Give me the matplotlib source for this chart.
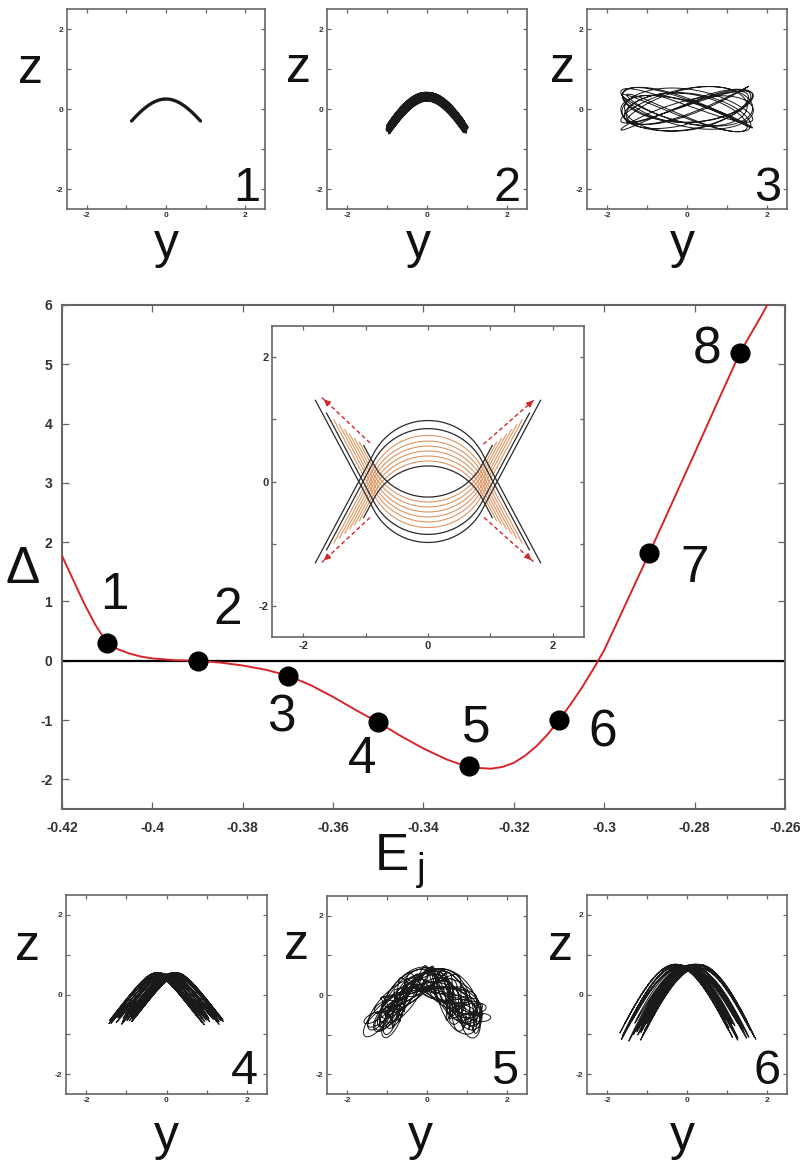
import numpy as np
import matplotlib
matplotlib.use("Agg")
import matplotlib.pyplot as plt

plt.rcParams['font.family'] = ['Liberation Sans', 'DejaVu Sans']
plt.rcParams['axes.unicode_minus'] = False

# ---------------- data ----------------
# Delta as a function of the Jacobi energy E_j
curve_E = [-0.4200, -0.4175, -0.4150, -0.4125, -0.4100, -0.4075, -0.4050,
           -0.4025, -0.4000, -0.3950, -0.3900, -0.3850, -0.3800, -0.3750,
           -0.3700, -0.3650, -0.3600, -0.3550, -0.3500, -0.3450, -0.3400,
           -0.3350, -0.3325, -0.3300, -0.3275, -0.3250, -0.3225, -0.3200,
           -0.3175, -0.3150, -0.3125, -0.3100, -0.3075, -0.3050, -0.3025,
           -0.3000, -0.2950, -0.2900, -0.2850, -0.2800, -0.2750, -0.2700,
           -0.2650, -0.2636]
curve_D = [1.77, 1.36, 0.95, 0.59, 0.30, 0.19, 0.12,
           0.07, 0.04, 0.01, 0.00, -0.03, -0.08, -0.15,
           -0.25, -0.41, -0.61, -0.83, -1.04, -1.27, -1.48,
           -1.66, -1.73, -1.78, -1.81, -1.82, -1.79, -1.72,
           -1.60, -1.44, -1.24, -1.00, -0.74, -0.46, -0.15,
           0.18, 1.00, 1.82, 2.66, 3.50, 4.35, 5.19,
           5.85, 6.05]

# sampled orbits
point_E = [-0.41, -0.39, -0.37, -0.35, -0.33, -0.31, -0.29, -0.27]
point_D = [0.30, 0.00, -0.25, -1.04, -1.78, -1.00, 1.82, 5.19]
point_names = ['1', '2', '3', '4', '5', '6', '7', '8']

main_xticks = [-0.42, -0.40, -0.38, -0.36, -0.34, -0.32, -0.30, -0.28, -0.26]
main_xticklabels = ['-0.42', '-0.4', '-0.38', '-0.36', '-0.34', '-0.32',
                    '-0.3', '-0.28', '-0.26']
main_yticks = [-2, -1, 0, 1, 2, 3, 4, 5, 6]
main_yticklabels = ['-2', '-1', '0', '1', '2', '3', '4', '5', '6']

yz_ticks = [-2, -1, 0, 1, 2]
yz_ticklabels = ['-2', '', '0', '', '2']

# inset: family of U-shaped orbits (vertical offset, arm length, colour key)
inset_offsets = [0.00, 0.13, 0.24, 0.33, 0.41, 0.49, 0.57, 0.65, 0.73]
inset_arm_len = [2.00, 1.62, 1.37, 1.18, 1.00, 0.83, 0.66, 0.50, 0.35]
inset_kind = ['k', 'k', 'o', 'o', 'o', 'o', 'o', 'o', 'k']
inset_radius = 0.98
inset_arm_angle = 28.0
arrow_start = [(-0.93, 0.62), (-0.93, -0.58), (0.89, 0.60), (0.90, -0.58)]
arrow_end = [(-1.70, 1.35), (-1.70, -1.30), (1.72, 1.33), (1.69, -1.29)]

# orbit panels 1..6: arch shape, drift, loops and wobble parameters
orb_amp = [0.87, 0.93, 1.58, 1.08, 1.10, 1.32]
orb_mod = [0.00, 0.05, 0.05, 0.08, 0.10, 0.08]
orb_mod_f = [0.0, 0.23, 0.11, 0.21, 0.17, 0.19]
orb_drift = [0.00, 0.04, 0.00, 0.28, 0.22, 0.30]
orb_drift_f = [0.0, 0.19, 0.0, 0.137, 0.113, 0.129]
orb_top = [0.25, 0.31, 0.00, 0.50, 0.42, 0.70]
orb_slope = [1.69, 2.10, 0.00, 1.35, 1.60, 2.45]
orb_width = [1.00, 1.00, 1.00, 0.30, 0.60, 1.00]
orb_loop_y = [0.00, 0.00, 0.00, 0.00, 0.24, 0.00]
orb_loop_z = [0.00, 0.00, 0.45, 0.00, 0.28, 0.00]
orb_loop_f = [0.0, 0.0, 1.37, 0.0, 3.3, 0.0]
orb_wob = [0.00, 0.09, 0.12, 0.05, 0.05, 0.06]
orb_wob_f = [0.0, 0.31, 0.43, 0.27, 0.37, 0.23]
orb_turns = [1, 15, 13, 22, 20, 20]
orb_lw = [2.4, 1.8, 0.7, 0.75, 0.7, 0.75]

# ---------------- layout helpers ----------------
W, H = 802, 1162
fig = plt.figure(figsize=(W / 100, H / 100), dpi=100)

SPINE = '#666666'
TICKLBL = '#333333'
RED = '#d4262b'


def px_axes(l, t, r, b):
    return fig.add_axes([l / W, 1 - b / H, (r - l) / W, (b - t) / H])


def px_text(x, y, s, size, **kw):
    fig.text(x / W, 1 - y / H, s, fontsize=size, ha='center', va='baseline',
             color='#111111', **kw)


def style_axes(ax, length, pad, spine_lw):
    ax.tick_params(direction='in', top=True, right=True, length=length,
                   width=0.9, color=SPINE, labelcolor=TICKLBL, pad=pad)
    for sp in ax.spines.values():
        sp.set_color(SPINE)
        sp.set_linewidth(spine_lw)


def yz_axes(ax, lsize):
    ax.set_xlim(-2.5, 2.5)
    ax.set_ylim(-2.5, 2.5)
    ax.set_xticks(yz_ticks)
    ax.set_xticklabels(yz_ticklabels, fontweight='bold', fontsize=lsize)
    ax.set_yticks(yz_ticks)
    ax.set_yticklabels(yz_ticklabels, fontweight='bold', fontsize=lsize)


# ---------------- main panel ----------------
ax = px_axes(62, 305, 785, 809)
ax.set_xlim(-0.42, -0.26)
ax.set_ylim(-2.5, 6)
ax.set_xticks(main_xticks)
ax.set_xticklabels(main_xticklabels, fontweight='bold', fontsize=10)
ax.set_yticks(main_yticks)
ax.set_yticklabels(main_yticklabels, fontweight='bold', fontsize=10)
style_axes(ax, 5, 7, 1.5)
ax.tick_params(axis='x', pad=9)

ax.axhline(0, color='black', lw=1.6, zorder=2)
ax.plot(curve_E, curve_D, color=RED, lw=1.4, zorder=3, clip_on=True)
ax.plot(point_E, point_D, 'o', color='black', ms=13.5, zorder=4)

lbl_dx = [7, 30, -7, -16, 8, 44, 45, -33]
lbl_dy = [34, 37, -56, -51, 25, -26, -29, -10]
for e, d, name, dx, dy in zip(point_E, point_D, point_names, lbl_dx, lbl_dy):
    ax.annotate(name, (e, d), xytext=(dx, dy), textcoords='offset pixels',
                ha='center', va='baseline', fontsize=37, color='#111111')

px_text(23, 583, '\u0394', 37)
px_text(392, 870, 'E', 37)
px_text(421, 880, 'j', 28)

# ---------------- inset ----------------
axi = px_axes(272, 326, 584, 637)
yz_axes(axi, 8)
style_axes(axi, 3, 2.5, 1.2)
axi.tick_params(axis='x', pad=3)

b = np.deg2rad(inset_arm_angle)
theta = np.linspace(np.pi + b, 2 * np.pi - b, 120)
for s, L, kind in zip(inset_offsets, inset_arm_len, inset_kind):
    ay = inset_radius * np.cos(theta)
    az = s + inset_radius * np.sin(theta)
    ly = ay[0] - L * np.sin(b)
    lz = az[0] + L * np.cos(b)
    ry = ay[-1] + L * np.sin(b)
    rz = az[-1] + L * np.cos(b)
    yy = np.concatenate([[ly], ay, [ry]])
    zz = np.concatenate([[lz], az, [rz]])
    col = '#2a2a2a' if kind == 'k' else '#dd9460'
    lw = 0.9 if kind == 'k' else 0.8
    axi.plot(yy, zz, color=col, lw=lw, zorder=3 if kind == 'k' else 2)
    axi.plot(yy, -zz, color=col, lw=lw, zorder=3 if kind == 'k' else 2)

for (y0, z0), (y1, z1) in zip(arrow_start, arrow_end):
    axi.plot([y0, y1], [z0, z1], color=RED, lw=1.0, ls=(0, (3, 2)), zorder=4)
    dy, dz = y1 - y0, z1 - z0
    n = np.hypot(dy, dz)
    axi.annotate('', xy=(y1, z1), xytext=(y1 - 0.12 * dy / n, z1 - 0.12 * dz / n),
                 arrowprops=dict(arrowstyle='-|>', color=RED, lw=1.0,
                                 mutation_scale=9), zorder=5)

# ---------------- orbit panels ----------------
panel_rects = [(67, 9, 265, 209), (327, 9, 527, 209), (587, 9, 787, 209),
               (66, 895, 267, 1094), (327, 896, 527, 1094), (587, 895, 787, 1094)]
z_label_pos = [(30, 83), (298, 82), (562, 82), (28, 960), (296, 959), (560, 960)]
y_label_pos = [(166, 258), (418, 258), (682, 258), (166, 1150), (420, 1150), (682, 1150)]
num_pos = [(247, 201), (507, 201), (768, 201), (244, 1084), (505, 1084), (767, 1084)]
panel_names = ['1', '2', '3', '4', '5', '6']

for i, rect in enumerate(panel_rects):
    axp = px_axes(*rect)
    yz_axes(axp, 6)
    style_axes(axp, 3, 2.5, 1.2)

    if orb_turns[i] == 1:
        t = np.linspace(-np.pi / 2, np.pi / 2, 400)
    else:
        t = np.linspace(0, 2 * np.pi * orb_turns[i], 600 * orb_turns[i])
    amp = orb_amp[i] * (1 + orb_mod[i] * np.sin(orb_mod_f[i] * t))
    u = amp * np.sin(t)
    c = orb_drift[i] * np.sin(orb_drift_f[i] * t)
    w = orb_width[i]
    y = c + u + orb_loop_y[i] * np.cos(orb_loop_f[i] * t)
    z = (orb_top[i] - orb_slope[i] * (np.sqrt(w ** 2 + u ** 2) - w)
         + orb_loop_z[i] * np.sin(orb_loop_f[i] * t + 0.4)
         + orb_wob[i] * np.sin(orb_wob_f[i] * t))
    axp.plot(y, z, color='#1a1a1a', lw=orb_lw[i],
             solid_capstyle='round', zorder=3)

    px_text(*z_label_pos[i], 'z', 36)
    px_text(*y_label_pos[i], 'y', 36)
    px_text(*num_pos[i], panel_names[i], 35)

fig.savefig('out.png', dpi=100)
